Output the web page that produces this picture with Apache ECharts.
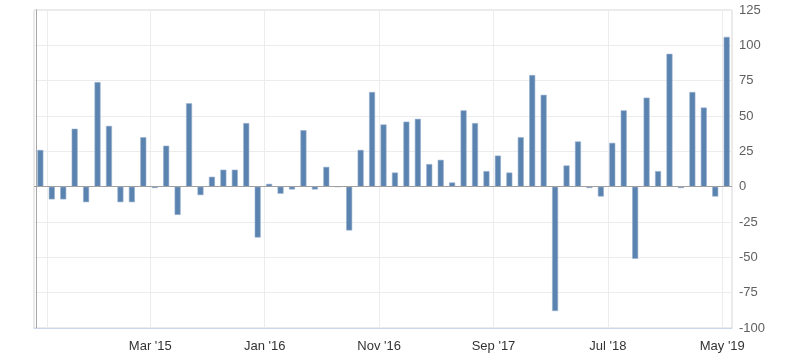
<!DOCTYPE html>
<html>
<head>
<meta charset="utf-8">
<script src="https://cdn.jsdelivr.net/npm/echarts@6/dist/echarts.min.js"></script>
<style>
html,body{margin:0;padding:0;background:#fff;}
#chart{width:800px;height:361px;}
</style>
</head>
<body>
<div id="chart"></div>
<script>
// Monthly values, May 2014 .. May 2019
const startYear = 2014;
const startMonth = 4; // 0-based: May
const values = [
  26, -9, -9, 41, -11, 74, 43, -11, -11, 35,
  -1, 29, -20, 59, -6, 7, 12, 12, 45, -36,
  2, -5, -2, 40, -2, 14, 0, -31, 26, 67,
  44, 10, 46, 48, 16, 19, 3, 54, 45, 11,
  22, 10, 35, 79, 65, -88, 15, 32, -1, -7,
  31, 54, -51, 63, 11, 94, -1, 67, 56, -7,
  106
];
const monthNames = ['Jan','Feb','Mar','Apr','May','Jun','Jul','Aug','Sep','Oct','Nov','Dec'];
const categories = values.map((_, i) => {
  const m = startMonth + i;
  const y = startYear + Math.floor(m / 12);
  return monthNames[m % 12] + " '" + String(y).slice(2);
});
// tick labels (month offsets from May 2014)
const tickLabels = ["Mar '15", "Jan '16", "Nov '16", "Sep '17", "Jul '18", "May '19"];
const labelPositions = tickLabels.map(t => categories.indexOf(t));
const gridPositions = [1].concat(labelPositions);

const OFFSET = 0.385; // bar position within the month

const chart = echarts.init(document.getElementById('chart'), null, {renderer: 'canvas'});
chart.setOption({
  animation: false,
  backgroundColor: '#ffffff',
  grid: {
    left: 34, right: 68, top: 10, bottom: 33,
    show: true, borderColor: '#d6d6d6', borderWidth: 1, backgroundColor: 'transparent'
  },
  xAxis: {
    type: 'value',
    min: -0.17,
    max: 60.85,
    axisLine: {show: true, onZero: false, lineStyle: {color: '#ccd6eb', width: 1}},
    axisTick: {show: false, customValues: gridPositions},
    splitLine: {show: true, lineStyle: {color: '#ececec', width: 1}},
    axisLabel: {
      customValues: labelPositions,
      formatter: v => categories[Math.round(v)] || '',
      color: '#333333',
      fontFamily: 'Liberation Sans, Arial, sans-serif',
      fontSize: 13,
      margin: 12
    }
  },
  yAxis: {
    type: 'value',
    position: 'right',
    min: -100, max: 125, interval: 25,
    axisLine: {show: true, lineStyle: {color: '#a8a8a8', width: 1}},
    axisTick: {show: false},
    splitLine: {show: true, lineStyle: {color: '#ececec', width: 1}},
    axisLabel: {
      color: '#606060',
      fontFamily: 'Liberation Sans, Arial, sans-serif',
      fontSize: 13,
      margin: 7
    }
  },
  series: [{
    type: 'bar',
    data: values.map((v, i) => [i + OFFSET, v]),
    barWidth: 6,
    itemStyle: {color: '#5b83b0', borderColor: '#97b0cf', borderWidth: 0.6},
    markLine: {
      silent: true,
      symbol: ['none', 'none'],
      label: {show: false},
      lineStyle: {color: '#a0a0a0', width: 1, type: 'solid'},
      data: [{yAxis: 0}]
    }
  }]
});
</script>
</body>
</html>
